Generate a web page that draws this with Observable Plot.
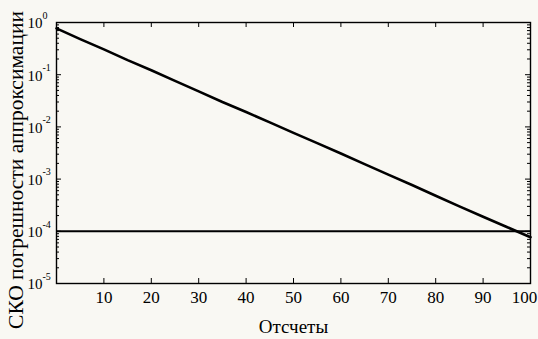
<!DOCTYPE html>
<html>
<head>
<meta charset="utf-8">
<script src="https://cdn.jsdelivr.net/npm/d3@7"></script>
<script src="https://cdn.jsdelivr.net/npm/@observablehq/plot@0.6"></script>
<style>
  html, body { margin: 0; padding: 0; background: #f9f8f3; }
  svg { display: block; }
</style>
</head>
<body>
<div id="chart"></div>
<script>
// Samples (отсчёты) and RMS approximation error
const samples = [0, 5, 10, 15, 20, 25, 30, 35, 40, 45, 50, 55, 60, 65, 70, 75, 80, 85, 90, 95, 100];
const errors  = [0.77, 0.48, 0.305, 0.19, 0.122, 0.076, 0.048, 0.030, 0.0193, 0.0122, 0.0077,
                 0.0049, 0.0031, 0.00194, 0.00122, 0.00077, 0.00048, 0.00030, 0.00019, 0.000121, 0.000077];
const threshold = [1e-4];
const xTicks = [10, 20, 30, 40, 50, 60, 70, 80, 90, 100];
const yMajor = [1e-5, 1e-4, 1e-3, 1e-2, 1e-1, 1];
const yExponents = ["-5", "-4", "-3", "-2", "-1", "0"];
const yMinor = [];
for (let e = -5; e < 0; e++) for (let m = 2; m <= 9; m++) yMinor.push(m * Math.pow(10, e));
const xLabel = "Отсчеты";
const yLabel = "СКО погрешности аппроксимации";

const W = 538, H = 339;
const mL = 56, mR = 8, mT = 22, mB = 56;
const pw = W - mL - mR, ph = H - mT - mB;
const data = samples.map((x, i) => ({x, y: errors[i]}));
const font = "Liberation Serif, Times New Roman, serif";
const lastTick = xTicks[xTicks.length - 1];

const plot = Plot.plot({
  width: W, height: H,
  marginLeft: mL, marginRight: mR, marginTop: mT, marginBottom: mB,
  style: {background: "#f9f8f3", fontFamily: font, color: "black", overflow: "visible"},
  x: {domain: [0, 100], axis: null},
  y: {type: "log", domain: [1e-5, 1], axis: null},
  marks: [
    Plot.ruleY(threshold, {stroke: "black", strokeWidth: 2}),
    Plot.line(data, {x: "x", y: "y", stroke: "black", strokeWidth: 2.6}),
    // inner ticks
    Plot.tickX(xTicks, {x: d => d, insetTop: ph - 5, stroke: "black"}),
    Plot.tickX(xTicks, {x: d => d, insetBottom: ph - 5, stroke: "black"}),
    Plot.tickY(yMajor, {y: d => d, insetRight: pw - 5, stroke: "black"}),
    Plot.tickY(yMajor, {y: d => d, insetLeft: pw - 5, stroke: "black"}),
    Plot.tickY(yMinor, {y: d => d, insetRight: pw - 3, stroke: "black"}),
    Plot.tickY(yMinor, {y: d => d, insetLeft: pw - 3, stroke: "black"}),
    Plot.frame({stroke: "black", strokeWidth: 1.4}),
    // x tick labels
    Plot.text(xTicks.filter(d => d !== lastTick), {x: d => d, frameAnchor: "bottom", dy: 19, text: d => String(d), fontSize: 17, fill: "black"}),
    Plot.text([lastTick], {x: d => d, frameAnchor: "bottom", dy: 19, dx: -6, text: d => String(d), fontSize: 17, fill: "black"}),
    // y tick labels: base and exponent
    Plot.text(yMajor, {y: d => d, frameAnchor: "left", dx: -14, dy: 1, text: () => "10", textAnchor: "end", fontSize: 15, fill: "black"}),
    Plot.text(yMajor, {y: d => d, frameAnchor: "left", dx: -14, dy: -7, text: (d, i) => yExponents[i], textAnchor: "start", fontSize: 10, fill: "black"}),
    // axis titles
    Plot.text([xLabel], {frameAnchor: "bottom", dy: 49, text: d => d, fontSize: 19, fill: "black"}),
    Plot.text([yLabel], {frameAnchor: "left", textAnchor: "middle", dx: -40, dy: 17, rotate: -90, text: d => d, fontSize: 21.5, fill: "black"})
  ]
});
document.getElementById("chart").appendChild(plot);
</script>
</body>
</html>
